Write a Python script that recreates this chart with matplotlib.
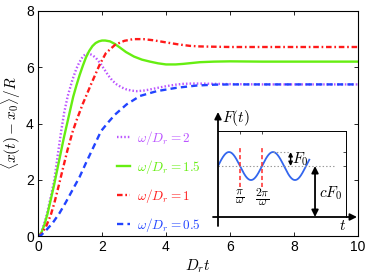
import numpy as np
import matplotlib
matplotlib.use("Agg")
import matplotlib.pyplot as plt

plt.rcParams['mathtext.fontset'] = 'cm'
plt.rcParams['font.family'] = ['Liberation Sans', 'DejaVu Sans']
plt.rcParams['lines.scale_dashes'] = False

# ---- data ----
t_w2 = [0, 0.1, 0.25, 0.4, 0.51, 0.62, 0.72, 0.82, 0.93, 1.08, 1.2, 1.29, 1.4, 1.5, 1.6, 1.7, 1.81,
        1.94, 2.07, 2.2, 2.33, 2.46, 2.62, 2.77, 2.92, 3.08, 3.3, 3.5, 3.75, 4.02, 4.3, 4.54, 4.8,
        5.06, 5.5, 6, 7, 8, 9, 10]
x_w2 = [0, 0.12, 0.65, 1.4, 2.0, 2.9, 3.7, 4.4, 4.98, 5.57, 5.95, 6.17, 6.38, 6.48, 6.48, 6.43, 6.33,
        6.15, 5.93, 5.7, 5.52, 5.39, 5.28, 5.21, 5.17, 5.15, 5.17, 5.21, 5.27, 5.33, 5.38, 5.41, 5.42,
        5.42, 5.41, 5.4, 5.39, 5.39, 5.39, 5.39]

t_w15 = [0, 0.1, 0.2, 0.3, 0.4, 0.5, 0.6, 0.7, 0.8, 0.9, 1.0, 1.1, 1.2, 1.3, 1.4, 1.5, 1.6, 1.7, 1.8,
         1.9, 2.0, 2.1, 2.25, 2.4, 2.56, 2.75, 3.0, 3.25, 3.5, 3.75, 4.0, 4.3, 4.54, 4.8, 5.06, 5.5,
         6, 7, 8, 10]
x_w15 = [0, 0.1, 0.4, 0.8, 1.3, 1.8, 2.35, 2.9, 3.45, 3.95, 4.45, 4.95, 5.35, 5.72, 6.05, 6.35, 6.58,
         6.75, 6.86, 6.92, 6.95, 6.95, 6.92, 6.83, 6.7, 6.54, 6.38, 6.27, 6.2, 6.14, 6.1, 6.1, 6.12,
         6.15, 6.18, 6.2, 6.21, 6.2, 6.2, 6.2]

t_w1 = [0, 0.1, 0.25, 0.4, 0.51, 0.65, 0.77, 0.92, 1.08, 1.2, 1.4, 1.66, 1.93, 2.12, 2.41, 2.7, 2.98,
        3.29, 3.6, 4.02, 4.4, 4.75, 5.06, 5.5, 6, 7, 8, 10]
x_w1 = [0, 0.06, 0.33, 0.75, 1.17, 1.8, 2.36, 3.05, 3.7, 4.1, 4.7, 5.4, 6.1, 6.5, 6.8, 6.94, 7.0,
        7.0, 6.96, 6.88, 6.81, 6.76, 6.74, 6.73, 6.72, 6.72, 6.72, 6.72]

t_w05 = [0, 0.1, 0.25, 0.45, 0.67, 0.87, 1.08, 1.3, 1.5, 1.75, 1.97, 2.2, 2.41, 2.77, 3.19, 3.71,
         4.33, 4.96, 5.5, 6, 7, 8, 10]
x_w05 = [0, 0.03, 0.2, 0.45, 0.81, 1.2, 1.64, 2.1, 2.6, 3.2, 3.73, 4.05, 4.32, 4.68, 4.98, 5.15,
         5.27, 5.35, 5.38, 5.39, 5.39, 5.39, 5.39]

labels = [r'$\omega/D_r = 2$', r'$\omega/D_r = 1.5$', r'$\omega/D_r = 1$', r'$\omega/D_r = 0.5$']
xticks = [0, 2, 4, 6, 8, 10]
yticks = [0, 2, 4, 6, 8]

# inset schematic parameters (units: x in pi/omega, y in F0)
c_level = 3.64
n_half_periods = 4.15

# ---- figure ----
W, H = 374, 277
fig = plt.figure(figsize=(W / 100, H / 100), dpi=100)
ax = fig.add_axes([38 / W, (H - 236) / H, 320 / W, 225 / H])

col_p, col_g, col_r, col_b = '#bb55ff', '#66ee11', '#ff1a1a', '#2244ff'
lw = 1.7
ax.plot(t_w2, x_w2, color=col_p, lw=lw, dashes=(1.1, 1.5), label=labels[0])
ax.plot(t_w15, x_w15, color=col_g, lw=lw, label=labels[1])
ax.plot(t_w1, x_w1, color=col_r, lw=lw, dashes=(4, 2, 1.2, 2), label=labels[2])
ax.plot(t_w05, x_w05, color=col_b, lw=lw, dashes=(4.5, 3), label=labels[3])

ax.set_xlim(0, 10)
ax.set_ylim(0, 8)
ax.set_xticks(xticks)
ax.set_yticks(yticks)
ax.tick_params(direction='in', top=True, right=True, length=3, width=0.6, labelsize=10, pad=3)
for s in ax.spines.values():
    s.set_linewidth(0.8)
ax.set_xlabel(r'$D_r t$', fontsize=11, labelpad=2)
ax.set_ylabel(r'$\langle x(t) - x_0\rangle/R$', fontsize=11, labelpad=2)

leg = ax.legend(loc='center left', bbox_to_anchor=((117 - 38) / 320, (236 - 181.5) / 225),
                frameon=False, fontsize=9.5, handlelength=1.0, handletextpad=0.5,
                labelspacing=0.83, labelcolor='linecolor', borderaxespad=0, borderpad=0)

# ---- inset ----
iL, iR, iB, iT = 218, 346, 217, 131
ai = fig.add_axes([iL / W, (H - iB) / H, (iR - iL) / W, (iB - iT) / H])
xmax = (iR - iL) / 22.0
ymax = (iB - iT) / 14.0
ai.set_xlim(0, xmax)
ai.set_ylim(0, ymax)
ai.patch.set_alpha(0)
for side in ['left', 'bottom']:
    ai.spines[side].set_visible(False)
for side in ['top', 'right']:
    ai.spines[side].set_linewidth(0.7)
ai.set_xticks([1, 2])
ai.set_yticks([c_level, c_level + 1])
ai.tick_params(direction='in', top=True, bottom=False, left=False, right=True,
               labelbottom=False, labelleft=False, length=2.5, width=0.5)

xs = np.linspace(0, n_half_periods, 300)
ai.plot(xs, c_level + np.sin(np.pi * xs), color='#3366ee', lw=1.3)
ai.plot([0, 5.27], [c_level, c_level], color='#999999', lw=0.8, ls=(0, (1, 1.5)))
ai.plot([2.5, 3.27], [c_level + 1, c_level + 1], color='#999999', lw=0.8, ls=(0, (1, 1.5)))
for xv in [1, 2]:
    ai.plot([xv, xv], [c_level - 1.5, c_level + 1.29], color='#ff2a2a', lw=1.1, dashes=(3, 2))
ai.text(1, 1.45, r'$\dfrac{\pi}{\omega}$', ha='center', va='center', fontsize=8.5)
ai.text(2, 1.45, r'$\dfrac{2\pi}{\omega}$', ha='center', va='center', fontsize=8.5)

# axes arrows
ai.annotate('', xy=(0, (iB - 112) / 14.0), xytext=(0, -(226 - iB) / 14.0),
            arrowprops=dict(arrowstyle='-|>', color='black', lw=1.3, mutation_scale=10,
                            shrinkA=0, shrinkB=0), annotation_clip=False)
ai.annotate('', xy=((357 - iL) / 22.0, 0), xytext=(-(iL - 213) / 22.0, 0),
            arrowprops=dict(arrowstyle='-|>', color='black', lw=1.3, mutation_scale=10,
                            shrinkA=0, shrinkB=0), annotation_clip=False)
# F0 double arrow
ai.annotate('', xy=(3.3, c_level + 1), xytext=(3.3, c_level),
            arrowprops=dict(arrowstyle='<|-|>', color='black', lw=1.0, mutation_scale=6,
                            shrinkA=0, shrinkB=0))
ai.text(3.38, c_level + 0.5, r'$F_0$', ha='left', va='center', fontsize=11)
# cF0 double arrow
ai.annotate('', xy=(4.41, c_level), xytext=(4.41, 0),
            arrowprops=dict(arrowstyle='<|-|>', color='black', lw=1.3, mutation_scale=10,
                            shrinkA=0, shrinkB=0), annotation_clip=False)
ai.text(4.58, 1.7, r'$cF_0$', ha='left', va='center', fontsize=11)
ai.text(0.2, (iB - 118) / 14.0, r'$F(t)$', ha='left', va='center', fontsize=11, clip_on=False)
ai.text(5.68, -0.65, r'$t$', ha='center', va='center', fontsize=11, clip_on=False)

fig.savefig('out.png', dpi=100)
